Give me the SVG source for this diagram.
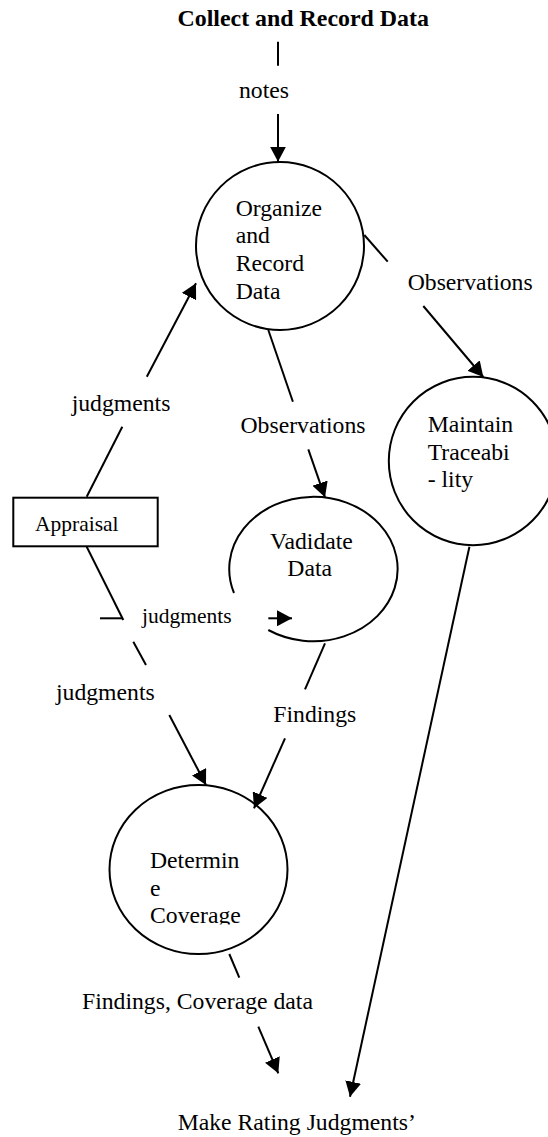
<svg xmlns="http://www.w3.org/2000/svg" width="548" height="1137" viewBox="0 0 548 1137">
<style>
text{font-family:"Liberation Serif","Times New Roman",serif;font-size:23.7px;fill:#000}
.t{font-weight:bold;font-size:23.9px}
.s{font-size:21.5px}
.n{fill:none;stroke:#000;stroke-width:2}
.c line{stroke:#000;stroke-width:2}
</style>
<defs>
<marker id="ah" markerUnits="userSpaceOnUse" viewBox="0 0 15 16" refX="15" refY="8" markerWidth="15" markerHeight="16" orient="auto">
<path d="M0,0 L15,8 L0,16 z" fill="#000"/>
</marker>
<clipPath id="dc"><rect x="100" y="780" width="200" height="144.5"/></clipPath>
</defs>
<rect width="548" height="1137" fill="#fff"/>
<g id="title"><text class="t" x="177.5" y="26">Collect and Record Data</text></g>
<g id="organize">
<circle class="n" cx="280" cy="246" r="84"/>
<text x="235.7" y="215.7">Organize</text>
<text x="235.7" y="243.3">and</text>
<text x="235.7" y="271">Record</text>
<text x="235.7" y="298.5">Data</text>
</g>
<g id="maintain">
<circle class="n" cx="473" cy="461" r="84.2"/>
<text x="427.7" y="432">Maintain</text>
<text x="427.7" y="459.6">Traceabi</text>
<text x="427.7" y="487">- lity</text>
</g>
<g id="appraisal">
<rect class="n" x="13.3" y="497.7" width="144.4" height="48.6"/>
<text class="s" x="35" y="530.5">Appraisal</text>
</g>
<g id="validate">
<path class="n" d="M268.3 630 A84.2 72.2 0 1 0 234 593"/>
<text x="270" y="549.3">Vadidate</text>
<text x="287.3" y="575.7">Data</text>
</g>
<g id="determine">
<ellipse class="n" cx="198.5" cy="869.5" rx="89" ry="84.5"/>
<g clip-path="url(#dc)">
<text x="150" y="868.3">Determin</text>
<text x="150" y="895.8">e</text>
<text x="150" y="923.3">Coverage</text>
</g>
</g>
<g id="make-rating"><text x="177.7" y="1130">Make Rating Judgments’</text></g>
<g id="connectors" class="c">
<line x1="278" y1="41.7" x2="278" y2="65.7"/>
<text x="239" y="98.3">notes</text>
<line x1="278" y1="114" x2="278" y2="161.7" marker-end="url(#ah)"/>
<line x1="364.3" y1="235" x2="387.7" y2="261.7"/>
<text x="407.7" y="290">Observations</text>
<line x1="423.3" y1="306" x2="483.3" y2="377" marker-end="url(#ah)"/>
<line x1="268.3" y1="330" x2="292.9" y2="401.7"/>
<text x="240.5" y="433.3">Observations</text>
<line x1="308.3" y1="449.3" x2="325" y2="497.3" marker-end="url(#ah)"/>
<line x1="86.7" y1="496.7" x2="122.3" y2="426.7"/>
<text x="71.7" y="411">judgments</text>
<line x1="146.8" y1="376.7" x2="196" y2="283.3" marker-end="url(#ah)"/>
<line x1="86.7" y1="546.7" x2="123.3" y2="620"/>
<line x1="100" y1="618.3" x2="122" y2="618.3"/>
<text class="s" x="142" y="623.3">judgments</text>
<line x1="268.3" y1="618.3" x2="292" y2="618.3" marker-end="url(#ah)"/>
<line x1="133.3" y1="641.7" x2="146" y2="665"/>
<text x="56" y="699.5">judgments</text>
<line x1="169.3" y1="715" x2="206" y2="785" marker-end="url(#ah)"/>
<line x1="325" y1="643.3" x2="305" y2="689.3"/>
<text x="273.3" y="721.7">Findings</text>
<line x1="285" y1="738.3" x2="254" y2="808.3" marker-end="url(#ah)"/>
<line x1="229.3" y1="954" x2="239.3" y2="977.7"/>
<text x="82" y="1009.3">Findings, Coverage data</text>
<line x1="258.3" y1="1026.7" x2="278.3" y2="1073.3" marker-end="url(#ah)"/>
<line x1="469.4" y1="546.7" x2="350" y2="1096.7" marker-end="url(#ah)"/>
</g>
</svg>
